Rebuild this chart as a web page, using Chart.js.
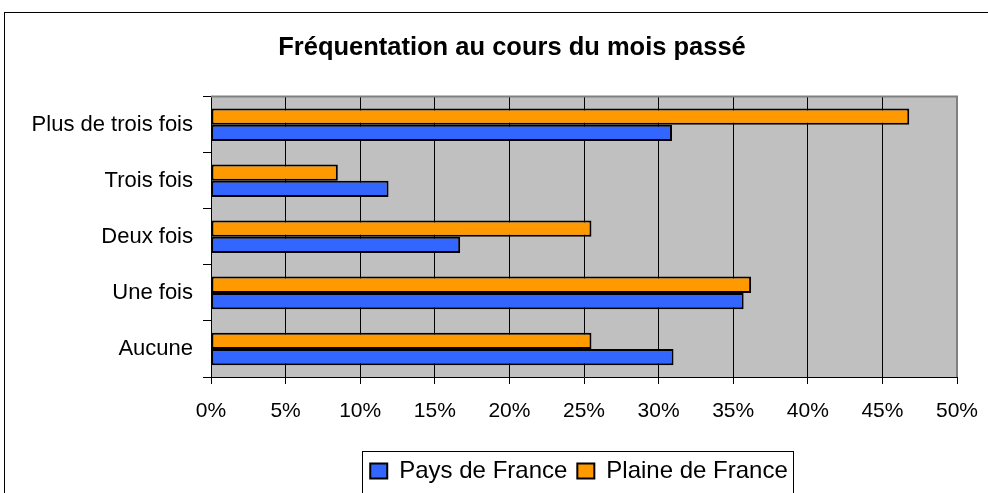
<!DOCTYPE html>
<html>
<head>
<meta charset="utf-8">
<script src="https://cdn.jsdelivr.net/npm/chart.js@4.4.1/dist/chart.umd.min.js"></script>
<style>
  html, body { margin: 0; padding: 0; background: #fff; }
  #wrap { width: 988px; height: 493px; }
</style>
</head>
<body>
<div id="wrap"><canvas id="chart" width="988" height="493"></canvas></div>
<script>
const categories = ['Plus de trois fois', 'Trois fois', 'Deux fois', 'Une fois', 'Aucune'];
const plaineDeFrance = [46.8, 8.5, 25.5, 36.2, 25.5];
const paysDeFrance = [30.9, 11.9, 16.7, 35.7, 31.0];
const xTickLabels = ['0%', '5%', '10%', '15%', '20%', '25%', '30%', '35%', '40%', '45%', '50%'];

const FONT = "'Liberation Sans', Arial, sans-serif";

// frame + grey plot area, drawn under the grid
const backdrop = {
    id: 'backdrop',
    afterLayout(chart) {
        // title sits a bit right of the canvas centre in the original, legend a bit left
        chart.titleBlock.left += 67;
        chart.legend.left -= 5;
        chart.legend.right -= 5;
    },
    beforeDraw(chart) {
        const { ctx, chartArea: a } = chart;
        ctx.save();
        ctx.fillStyle = '#fff';
        ctx.fillRect(0, 0, chart.width, chart.height);
        ctx.strokeStyle = '#000';
        ctx.lineWidth = 1;
        ctx.strokeRect(4.5, 12.5, 1000, 1000);
        ctx.fillStyle = '#c0c0c0';
        ctx.fillRect(a.left, a.top, a.right - a.left, a.bottom - a.top);
        ctx.restore();
    },
    beforeDatasetsDraw(chart) {
        const { ctx, chartArea: a } = chart;
        ctx.save();
        ctx.strokeStyle = '#808080';
        ctx.lineWidth = 2;
        ctx.beginPath();
        ctx.moveTo(a.left, a.top);
        ctx.lineTo(a.right, a.top);
        ctx.lineTo(a.right, a.bottom);
        ctx.stroke();
        ctx.restore();
    },
    afterDraw(chart) {
        // box round the legend
        const { ctx } = chart;
        const boxes = chart.legend.legendHitBoxes;
        if (!boxes || !boxes.length) return;
        const l = Math.min(...boxes.map(b => b.left)) - 8;
        const r = Math.max(...boxes.map(b => b.left + b.width)) + 5;
        const t = Math.min(...boxes.map(b => b.top)) - 8;
        ctx.save();
        ctx.strokeStyle = '#000';
        ctx.lineWidth = 1;
        ctx.strokeRect(Math.round(l) + 0.5, Math.round(t) + 0.5, Math.round(r - l), 200);
        ctx.restore();
    }
};

const ctx = document.getElementById('chart').getContext('2d');
const myChart = new Chart(ctx, {
    type: 'bar',
    data: {
        labels: categories,
        datasets: [
            {
                label: 'Plaine de France',
                data: plaineDeFrance,
                backgroundColor: '#ff9900',
                borderColor: '#000',
                borderWidth: 2,
                borderSkipped: false,
                categoryPercentage: 0.58,
                barPercentage: 1
            },
            {
                label: 'Pays de France',
                data: paysDeFrance,
                backgroundColor: '#3366ff',
                borderColor: '#000',
                borderWidth: 2,
                borderSkipped: false,
                categoryPercentage: 0.58,
                barPercentage: 1
            }
        ]
    },
    options: {
        indexAxis: 'y',
        responsive: false,
        animation: false,
        devicePixelRatio: 1,
        layout: { padding: { left: 0, right: 31, top: 0, bottom: 0 } },
        plugins: {
            title: {
                display: true,
                text: 'Fréquentation au cours du mois passé',
                color: '#000',
                font: { family: FONT, size: 25.5, weight: 'bold' },
                padding: { top: 33, bottom: 33 }
            },
            legend: {
                position: 'bottom',
                fullSize: false,
                reverse: true,
                labels: {
                    color: '#000',
                    font: { family: FONT, size: 24 },
                    boxWidth: 17,
                    boxHeight: 15,
                    padding: 10
                }
            },
            tooltip: { enabled: false }
        },
        scales: {
            x: {
                min: 0,
                max: 50,
                ticks: {
                    stepSize: 5,
                    color: '#000',
                    font: { family: FONT, size: 21 },
                    padding: 15,
                    callback: (v, i) => xTickLabels[i]
                },
                grid: { color: '#000', lineWidth: 1, tickLength: 7 },
                border: { color: '#000' },
                afterFit: s => {
                    s.height = 72;
                    s.paddingLeft = 0;
                    s.paddingRight = 0;
                }
            },
            y: {
                ticks: {
                    color: '#000',
                    font: { family: FONT, size: 22 },
                    padding: 10
                },
                grid: { offset: true, drawOnChartArea: false, color: '#000', tickLength: 8 },
                border: { color: '#000' },
                afterFit: s => { s.width = 211; }
            }
        }
    },
    plugins: [backdrop]
});
</script>
</body>
</html>
